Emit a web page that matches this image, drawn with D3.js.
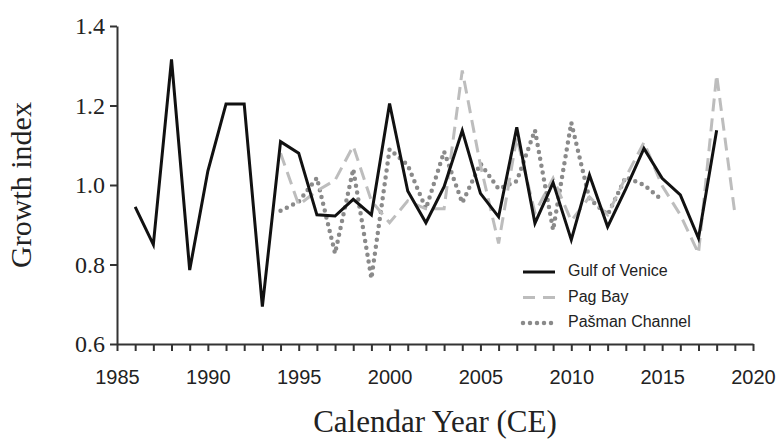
<!DOCTYPE html>
<html>
<head>
<meta charset="utf-8">
<script src="https://cdn.jsdelivr.net/npm/d3@7"></script>
<style>
  body { margin: 0; background: #fff; }
  .axis path, .axis line { stroke: #333; stroke-width: 2; }
  .axis text { fill: #222; }
</style>
</head>
<body>
<div id="chart"></div>
<script>
// values
const gulfYears = d3.range(1986, 2019);
const gulf = [0.945, 0.85, 1.316, 0.786, 1.035, 1.204, 1.204, 0.694, 1.109, 1.08,
  0.925, 0.922, 0.964, 0.925, 1.205, 0.985, 0.905, 0.996, 1.137, 0.979,
  0.92, 1.145, 0.904, 1.006, 0.862, 1.025, 0.895, 0.99, 1.092, 1.017,
  0.975, 0.866, 1.138];

const pagYears = d3.range(1994, 2020);
const pag = [1.08, 0.95, 0.985, 1.012, 1.098, 0.96, 0.905, 0.96, 0.94, 0.94,
  1.288, 1.05, 0.853, 1.12, 0.93, 1.017, 0.91, 0.97, 0.925, 1.02,
  1.107, 0.998, 0.925, 0.828, 1.277, 0.929];

const pasmanYears = d3.range(1994, 2016);
const pasman = [0.935, 0.958, 1.018, 0.828, 1.04, 0.765, 1.09, 1.05, 0.94, 1.084,
  0.955, 1.054, 0.99, 1.01, 1.138, 0.887, 1.157, 0.965, 0.925, 1.02,
  1.0, 0.962];

const xTicks = d3.range(1985, 2021);
const yTicks = [0.6, 0.8, 1.0, 1.2, 1.4];
const seriesNames = ['Gulf of Venice', 'Pag Bay', 'Pašman Channel'];

const w = 778, h = 441;
const margin = { top: 26, right: 25, bottom: 97, left: 117 };
const width = w - margin.left - margin.right;
const height = h - margin.top - margin.bottom;

const svg = d3.select('#chart').append('svg')
  .attr('width', w).attr('height', h)
  .append('g')
  .attr('transform', 'translate(' + margin.left + ',' + margin.top + ')');

const x = d3.scaleLinear().domain([1985, 2020]).range([0, width]);
const y = d3.scaleLinear().domain([0.6, 1.4]).range([height, 0]);

// axes
svg.append('g')
  .attr('class', 'axis')
  .attr('transform', 'translate(0,' + height + ')')
  .call(d3.axisBottom(x).tickValues(xTicks).tickSize(7).tickSizeOuter(0)
    .tickFormat(d => d % 5 === 0 ? d : ''))
  .selectAll('text')
  .attr('dy', '1.5em')
  .style('font-family', 'Liberation Sans, Arial, sans-serif')
  .style('font-size', '20px');

svg.append('g')
  .attr('class', 'axis')
  .call(d3.axisLeft(y).tickValues(yTicks).tickSize(7).tickSizeOuter(0)
    .tickFormat(d3.format('.1f')))
  .selectAll('text')
  .attr('x', -12)
  .style('font-family', 'Liberation Serif, Times New Roman, serif')
  .style('font-size', '24px');

// axis titles
svg.append('text')
  .attr('transform', 'rotate(-90)')
  .attr('x', -(185 - margin.top))
  .attr('y', 24 - margin.left)
  .attr('text-anchor', 'middle')
  .attr('dominant-baseline', 'middle')
  .style('font-family', 'Liberation Serif, Times New Roman, serif')
  .style('font-size', '30px')
  .style('fill', '#222')
  .text('Growth index');

svg.append('text')
  .attr('x', width / 2)
  .attr('y', height + 88)
  .attr('text-anchor', 'middle')
  .style('font-family', 'Liberation Serif, Times New Roman, serif')
  .style('font-size', '31px')
  .style('fill', '#222')
  .text('Calendar Year (CE)');

const line = d3.line().x(d => x(d.year)).y(d => y(d.value));
const zip = (years, vals) => years.map((year, i) => ({ year, value: vals[i] }));

const styles = [
  { stroke: '#111', width: 3, dash: null, cap: 'butt' },
  { stroke: '#bdbdbd', width: 3, dash: '13,7', cap: 'butt' },
  { stroke: '#8a8a8a', width: 4.5, dash: '0,7', cap: 'round' }
];

// draw dotted first, then dashed, black on top
svg.append('path').datum(zip(pasmanYears, pasman))
  .attr('d', line).attr('fill', 'none')
  .attr('stroke', styles[2].stroke).attr('stroke-width', styles[2].width)
  .attr('stroke-dasharray', styles[2].dash).attr('stroke-linecap', 'round');

svg.append('path').datum(zip(pagYears, pag))
  .attr('d', line).attr('fill', 'none')
  .attr('stroke', styles[1].stroke).attr('stroke-width', styles[1].width)
  .attr('stroke-dasharray', styles[1].dash);

svg.append('path').datum(zip(gulfYears, gulf))
  .attr('d', line).attr('fill', 'none')
  .attr('stroke', styles[0].stroke).attr('stroke-width', styles[0].width)
  .attr('stroke-linejoin', 'miter');

// legend
const legend = svg.append('g')
  .attr('transform', 'translate(' + (523 - margin.left) + ',' + (272 - margin.top) + ')');

seriesNames.forEach((name, i) => {
  const g = legend.append('g').attr('transform', 'translate(0,' + i * 25.5 + ')');
  g.append('line')
    .attr('x1', 0).attr('x2', 32).attr('y1', 0).attr('y2', 0)
    .attr('stroke', styles[i].stroke)
    .attr('stroke-width', styles[i].width)
    .attr('stroke-dasharray', i === 1 ? '12,8' : styles[i].dash)
    .attr('stroke-linecap', styles[i].cap);
  g.append('text')
    .attr('x', 45).attr('y', 0)
    .attr('dominant-baseline', 'middle')
    .style('font-family', 'Liberation Sans, Arial, sans-serif')
    .style('font-size', '16px')
    .style('fill', '#222')
    .text(name);
});
</script>
</body>
</html>
